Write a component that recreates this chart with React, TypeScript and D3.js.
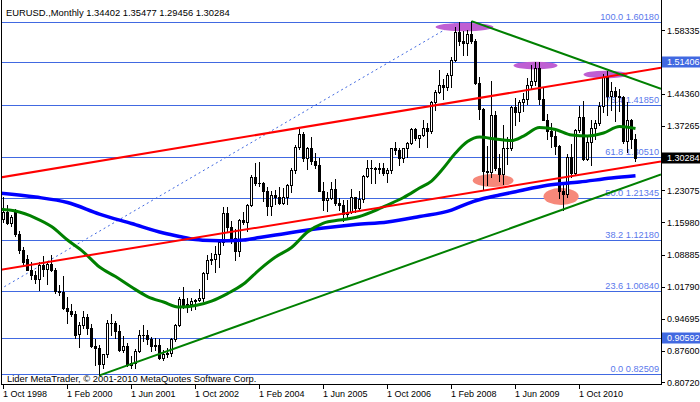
import React from "react";
import * as d3 from "d3";

// ---------- data ----------
const title = "EURUSD.,Monthly";
const firstBarYear = 1998;
const firstBarMonth = 10; // Oct 1998 = bar 0

// monthly candles [open, high, low, close]
const candles: [number, number, number, number][] = [
  // 1998 Oct-Dec
  [1.168, 1.215, 1.16, 1.183], [1.183, 1.198, 1.156, 1.158], [1.158, 1.176, 1.153, 1.173],
  // 1999
  [1.183, 1.19, 1.13, 1.135], [1.135, 1.142, 1.092, 1.1], [1.1, 1.105, 1.068, 1.073],
  [1.08, 1.088, 1.054, 1.056], [1.056, 1.072, 1.035, 1.043], [1.043, 1.053, 1.026, 1.035],
  [1.035, 1.073, 1.011, 1.066], [1.066, 1.087, 1.041, 1.058], [1.058, 1.074, 1.025, 1.068],
  [1.068, 1.088, 1.053, 1.056], [1.056, 1.06, 1.004, 1.009], [1.009, 1.022, 1.0, 1.007],
  // 2000
  [1.007, 1.041, 0.97, 0.971], [0.971, 0.995, 0.939, 0.965], [0.965, 0.98, 0.954, 0.957],
  [0.957, 0.964, 0.904, 0.912], [0.914, 0.94, 0.886, 0.933], [0.933, 0.964, 0.927, 0.952],
  [0.952, 0.958, 0.914, 0.927], [0.927, 0.935, 0.885, 0.888], [0.888, 0.903, 0.845, 0.883],
  [0.883, 0.89, 0.8228, 0.848], [0.848, 0.87, 0.84, 0.87], [0.87, 0.944, 0.864, 0.939],
  // 2001
  [0.939, 0.959, 0.912, 0.938], [0.938, 0.942, 0.906, 0.921], [0.921, 0.933, 0.876, 0.878],
  [0.878, 0.91, 0.875, 0.887], [0.887, 0.894, 0.844, 0.846], [0.846, 0.866, 0.838, 0.849],
  [0.849, 0.88, 0.839, 0.877], [0.877, 0.923, 0.875, 0.912], [0.912, 0.933, 0.899, 0.911],
  [0.911, 0.922, 0.892, 0.903], [0.903, 0.907, 0.877, 0.888], [0.888, 0.905, 0.879, 0.89],
  // 2002
  [0.89, 0.903, 0.858, 0.861], [0.861, 0.878, 0.856, 0.869], [0.869, 0.883, 0.864, 0.872],
  [0.872, 0.904, 0.865, 0.902], [0.902, 0.937, 0.898, 0.933], [0.933, 0.995, 0.932, 0.992],
  [0.992, 1.018, 0.971, 0.978], [0.978, 0.993, 0.963, 0.981], [0.981, 0.994, 0.966, 0.986],
  [0.986, 0.99, 0.969, 0.988], [0.988, 1.014, 0.987, 0.993], [0.993, 1.05, 0.986, 1.049],
  // 2003
  [1.049, 1.089, 1.035, 1.076], [1.076, 1.093, 1.069, 1.079], [1.079, 1.108, 1.05, 1.091],
  [1.091, 1.122, 1.062, 1.116], [1.116, 1.193, 1.11, 1.18], [1.18, 1.193, 1.14, 1.149],
  [1.149, 1.163, 1.115, 1.125], [1.125, 1.146, 1.076, 1.098], [1.098, 1.168, 1.086, 1.165],
  [1.165, 1.183, 1.156, 1.16], [1.16, 1.2, 1.141, 1.199], [1.199, 1.264, 1.196, 1.259],
  // 2004
  [1.259, 1.29, 1.242, 1.247], [1.247, 1.293, 1.24, 1.246], [1.246, 1.249, 1.208, 1.23],
  [1.23, 1.239, 1.176, 1.197], [1.197, 1.229, 1.176, 1.22], [1.22, 1.231, 1.2, 1.217],
  [1.217, 1.239, 1.2, 1.202], [1.202, 1.235, 1.2, 1.217], [1.217, 1.244, 1.2, 1.242],
  [1.242, 1.28, 1.227, 1.276], [1.276, 1.33, 1.27, 1.326], [1.326, 1.367, 1.322, 1.356],
  // 2005
  [1.356, 1.359, 1.295, 1.303], [1.303, 1.327, 1.277, 1.325], [1.325, 1.348, 1.288, 1.296],
  [1.296, 1.312, 1.279, 1.287], [1.287, 1.302, 1.229, 1.23], [1.23, 1.249, 1.187, 1.209],
  [1.209, 1.226, 1.186, 1.213], [1.213, 1.248, 1.211, 1.233], [1.233, 1.256, 1.199, 1.203],
  [1.203, 1.214, 1.187, 1.198], [1.198, 1.21, 1.164, 1.179], [1.179, 1.209, 1.171, 1.184],
  // 2006
  [1.184, 1.233, 1.18, 1.215], [1.215, 1.217, 1.183, 1.192], [1.192, 1.23, 1.187, 1.212],
  [1.212, 1.265, 1.206, 1.262], [1.262, 1.298, 1.26, 1.281], [1.281, 1.298, 1.246, 1.279],
  [1.279, 1.283, 1.246, 1.277], [1.277, 1.292, 1.27, 1.281], [1.281, 1.29, 1.264, 1.268],
  [1.268, 1.281, 1.248, 1.276], [1.276, 1.325, 1.27, 1.324], [1.324, 1.337, 1.311, 1.32],
  // 2007
  [1.32, 1.325, 1.286, 1.302], [1.302, 1.325, 1.293, 1.323], [1.323, 1.338, 1.304, 1.336],
  [1.336, 1.368, 1.332, 1.365], [1.365, 1.368, 1.341, 1.345], [1.345, 1.353, 1.326, 1.353],
  [1.353, 1.385, 1.35, 1.369], [1.369, 1.379, 1.326, 1.362], [1.362, 1.428, 1.358, 1.426],
  [1.426, 1.453, 1.408, 1.448], [1.448, 1.497, 1.446, 1.463], [1.463, 1.476, 1.433, 1.459],
  // 2008
  [1.459, 1.49, 1.452, 1.486], [1.486, 1.524, 1.458, 1.518], [1.518, 1.591, 1.516, 1.579],
  [1.579, 1.6018, 1.551, 1.56], [1.56, 1.582, 1.53, 1.555], [1.555, 1.584, 1.529, 1.575],
  [1.575, 1.6038, 1.556, 1.56], [1.56, 1.565, 1.466, 1.468], [1.468, 1.48, 1.388, 1.41],
  [1.41, 1.412, 1.233, 1.273], [1.273, 1.329, 1.242, 1.271], [1.271, 1.472, 1.26, 1.397],
  // 2009
  [1.397, 1.405, 1.275, 1.28], [1.28, 1.311, 1.252, 1.267], [1.267, 1.374, 1.2456, 1.325],
  [1.325, 1.348, 1.289, 1.324], [1.324, 1.417, 1.319, 1.415], [1.415, 1.434, 1.374, 1.403],
  [1.403, 1.43, 1.383, 1.425], [1.425, 1.445, 1.405, 1.433], [1.433, 1.478, 1.421, 1.464],
  [1.464, 1.506, 1.455, 1.472], [1.472, 1.5144, 1.464, 1.5], [1.5, 1.514, 1.422, 1.432],
  // 2010
  [1.432, 1.458, 1.385, 1.386], [1.386, 1.398, 1.343, 1.362], [1.362, 1.38, 1.327, 1.351],
  [1.351, 1.369, 1.311, 1.329], [1.329, 1.331, 1.214, 1.229], [1.229, 1.244, 1.1876, 1.223],
  [1.223, 1.311, 1.215, 1.305], [1.305, 1.333, 1.259, 1.269], [1.269, 1.366, 1.264, 1.363],
  [1.363, 1.416, 1.36, 1.393], [1.393, 1.428, 1.297, 1.3], [1.3, 1.35, 1.297, 1.338],
  // 2011
  [1.338, 1.386, 1.287, 1.369], [1.369, 1.386, 1.343, 1.38], [1.38, 1.425, 1.375, 1.416],
  [1.416, 1.488, 1.404, 1.481], [1.481, 1.494, 1.397, 1.439], [1.439, 1.47, 1.408, 1.45],
  [1.45, 1.458, 1.384, 1.439], [1.439, 1.455, 1.405, 1.437], [1.437, 1.439, 1.335, 1.339],
  [1.339, 1.425, 1.315, 1.386], [1.386, 1.387, 1.325, 1.344], [1.34402, 1.35477, 1.29456, 1.30284],
];

const xTickLabels = [
  "1 Oct 1998", "1 Feb 2000", "1 Jun 2001", "1 Oct 2002", "1 Feb 2004",
  "1 Jun 2005", "1 Oct 2006", "1 Feb 2008", "1 Jun 2009", "1 Oct 2010",
];
const yTickValues = [1.58335, 1.4436, 1.37265, 1.23075, 1.1598, 1.08885, 1.0179, 0.94695, 0.876, 0.8072];
const markedLevels = [1.51406, 0.90592];
const currentPrice = 1.30284;
const fibLevels: [string, number][] = [
  ["100.0", 1.6018], ["76.4", 1.4185], ["61.8", 1.3051], ["50.0", 1.21345],
  ["38.2", 1.1218], ["23.6", 1.0084], ["0.0", 0.82509],
];
const fibAnchors: [number, number][] = [[-37.3, 0.82509], [113.6, 1.6018]];

// moving averages sampled [bar, price]
const slowMA: [number, number][] = [
  [-1, 1.2247], [8, 1.2159], [16, 1.2038], [24, 1.1784], [32, 1.1575], [40, 1.1365],
  [44, 1.1288], [48, 1.1222], [52, 1.12], [56, 1.1196], [60, 1.1211], [64, 1.1266],
  [68, 1.1321], [72, 1.1376], [80, 1.1476], [88, 1.1553], [96, 1.1608], [104, 1.1729],
  [112, 1.1872], [116, 1.2016], [120, 1.2126], [124, 1.2203], [128, 1.2276], [136, 1.2419],
  [144, 1.249], [152, 1.2578], [158, 1.2629],
];
const fastMA: [number, number][] = [
  [-1, 1.1894], [3, 1.185], [8, 1.1696], [12, 1.1509], [16, 1.1211], [20, 1.0946],
  [24, 1.0616], [28, 1.0406], [32, 1.0175], [36, 0.9965], [40, 0.9844], [44, 0.9733],
  [48, 0.9767], [52, 0.9866], [56, 1.0031], [60, 1.0241], [64, 1.056], [68, 1.0836],
  [72, 1.1046], [76, 1.1387], [80, 1.1586], [84, 1.1652], [88, 1.1707], [92, 1.1828],
  [96, 1.1983], [100, 1.2148], [104, 1.2358], [107, 1.2512], [110, 1.2799], [113, 1.3129],
  [116, 1.3383], [119, 1.3482], [123, 1.3438], [127, 1.3405], [130, 1.3504], [134, 1.3692],
  [138, 1.3648], [142, 1.3526], [146, 1.3504], [150, 1.357], [154, 1.3714], [158, 1.367],
];

// trend lines by two anchors [bar, price]
const redChannelUpper: [number, number][] = [[0, 1.2602], [158, 1.4915]];
const redChannelLower: [number, number][] = [[0, 1.0567], [158, 1.2852]];
const greenSupport: [number, number][] = [[24, 0.8228], [158, 1.2457]];
const greenResistance: [number, number][] = [[117, 1.6038], [158, 1.4746]];

// ellipses [bar, price, radius in bars, radius in price]
const topEllipses: [number, number, number, number][] = [
  [115.25, 1.5908, 7.25, 0.0092], [133, 1.5059, 5.5, 0.0085], [150.5, 1.486, 5.5, 0.0085],
];
const bottomEllipses: [number, number, number, number][] = [
  [122.4, 1.2523, 5.1, 0.0143], [139.4, 1.217, 4.4, 0.0187],
];
const copyright = "Lider MetaTrader, \u00a9 2001-2010 MetaQuotes Software Corp.";

// ---------- layout ----------
const W = 700;
const H = 402;
const PR = 661; // plot right
const PB = 384; // plot bottom
const FONT = "'Liberation Sans', Arial, sans-serif";
const MONTHS: Record<string, number> = {
  Jan: 1, Feb: 2, Mar: 3, Apr: 4, May: 5, Jun: 6, Jul: 7, Aug: 8, Sep: 9, Oct: 10, Nov: 11, Dec: 12,
};

export default function App() {
  const n = candles.length;
  const x = d3.scaleLinear().domain([0, n - 1]).range([3.5, 3.5 + 4 * (n - 1)]);
  const y = d3.scaleLinear().domain([0.8072, 1.58335]).range([382.4, 30.4]);
  const snap = (v: number) => Math.round(y(v)) + 0.5;

  const barOf = (label: string) => {
    const [, m, yr] = label.split(" ");
    return (+yr - firstBarYear) * 12 + MONTHS[m] - firstBarMonth;
  };

  const seg = (a: [number, number], b: [number, number], xs: number | null, xe: number | null) => {
    const x1 = x(a[0]), y1 = y(a[1]), x2 = x(b[0]), y2 = y(b[1]);
    const k = (y2 - y1) / (x2 - x1);
    const sx = xs === null ? x1 : xs;
    const ex = xe === null ? x2 : xe;
    return { x1: sx, y1: y1 + k * (sx - x1), x2: ex, y2: y1 + k * (ex - x1) };
  };

  const maLine = d3
    .line<[number, number]>()
    .x((d) => x(d[0]))
    .y((d) => y(d[1]))
    .curve(d3.curveMonotoneX);

  const last = candles[n - 1];
  const header = `${title}  ${last.map((v) => v.toFixed(5)).join(" ")}`;

  const red1 = seg(redChannelUpper[0], redChannelUpper[1], 0, PR);
  const red2 = seg(redChannelLower[0], redChannelLower[1], 0, PR);
  const g1 = seg(greenSupport[0], greenSupport[1], null, PR);
  const g2 = seg(greenResistance[0], greenResistance[1], null, PR);
  const fibT = seg(fibAnchors[0], fibAnchors[1], 0, null);

  return (
    <svg
      width={W}
      height={H}
      style={{ position: "absolute", left: 0, top: 0, background: "#fff" }}
      fontFamily={FONT}
    >
      <defs>
        <clipPath id="plot">
          <rect x={1} y={0} width={PR - 1} height={PB} />
        </clipPath>
      </defs>
      <rect x={0} y={0} width={W} height={H} fill="#fff" />

      <g clipPath="url(#plot)">
        {/* fibonacci levels */}
        {fibLevels.map(([p, v]) => (
          <g key={p}>
            <line x1={0} x2={PR} y1={snap(v)} y2={snap(v)} stroke="#4169e1" strokeWidth={1} />
            <text x={659} y={snap(v) - 3} textAnchor="end" fontSize={9.2} fill="#5a78ec">
              {`${p} ${v.toFixed(5)}`}
            </text>
          </g>
        ))}
        {markedLevels.map((v) => (
          <line key={v} x1={0} x2={PR} y1={snap(v)} y2={snap(v)} stroke="#4169e1" strokeWidth={1} />
        ))}
        <line {...fibT} stroke="#4169e1" strokeWidth={1} strokeDasharray="2,3" />

        {/* ellipses */}
        {topEllipses.map(([b, v, rb, rv], i) => (
          <ellipse key={"t" + i} cx={x(b)} cy={y(v)} rx={rb * 4} ry={Math.abs(y(v + rv) - y(v))} fill="#bf5fd3" />
        ))}
        {bottomEllipses.map(([b, v, rb, rv], i) => (
          <ellipse key={"b" + i} cx={x(b)} cy={y(v)} rx={rb * 4} ry={Math.abs(y(v + rv) - y(v))} fill="#f6887a" />
        ))}

        {/* candles */}
        {candles.map(([o, h, l, c], i) => {
          const cx = x(i);
          const yt = Math.round(y(Math.max(o, c)));
          const yb = Math.round(y(Math.min(o, c)));
          const bull = c >= o;
          return (
            <g key={i}>
              <line x1={cx} x2={cx} y1={Math.round(y(h))} y2={Math.round(y(l)) + 1} stroke="#000" strokeWidth={1} />
              {yb - yt >= 1 ? (
                <rect x={cx - 1} y={yt + 0.5} width={2} height={yb - yt} fill={bull ? "#fff" : "#000"} stroke="#000" strokeWidth={1} />
              ) : (
                <line x1={cx - 1.5} x2={cx + 1.5} y1={yt + 0.5} y2={yt + 0.5} stroke="#000" strokeWidth={1} />
              )}
            </g>
          );
        })}

        {/* moving averages */}
        <path d={maLine(slowMA) || ""} fill="none" stroke="#0000ff" strokeWidth={3.5} />
        <path d={maLine(fastMA) || ""} fill="none" stroke="#008000" strokeWidth={3} />

        {/* trend lines */}
        <line {...red1} stroke="#ff0000" strokeWidth={2} />
        <line {...red2} stroke="#ff0000" strokeWidth={2} />
        <line {...g1} stroke="#008000" strokeWidth={2} />
        <line {...g2} stroke="#008000" strokeWidth={2} />
      </g>

      {/* header */}
      <text x={6} y={15.5} fontSize={9.4} fill="#000">{header}</text>
      <text x={7} y={382} fontSize={9.4} fill="#000">{copyright}</text>

      {/* frame */}
      <line x1={1.5} x2={1.5} y1={0} y2={PB + 0.5} stroke="#000" />
      <line x1={1} x2={PR + 1} y1={PB + 0.5} y2={PB + 0.5} stroke="#000" />
      <line x1={PR + 0.5} x2={PR + 0.5} y1={0} y2={PB + 1} stroke="#000" />

      {/* price axis */}
      {yTickValues.map((v) => (
        <g key={v}>
          <line x1={PR} x2={PR + 4} y1={snap(v)} y2={snap(v)} stroke="#000" />
          <text x={667} y={y(v) + 3.3} fontSize={9} fill="#000">{v.toFixed(5)}</text>
        </g>
      ))}
      {markedLevels.map((v) => (
        <g key={"m" + v}>
          <rect x={662} y={Math.round(y(v)) - 5.5} width={38} height={11} fill="#4169e1" />
          <text x={667} y={y(v) + 3.3} fontSize={9} fill="#fff">{v.toFixed(5)}</text>
        </g>
      ))}
      <rect x={662} y={Math.round(y(currentPrice)) - 5.5} width={38} height={11} fill="#000" />
      <text x={667} y={y(currentPrice) + 3.3} fontSize={9} fill="#fff">{currentPrice.toFixed(5)}</text>

      {/* time axis */}
      {xTickLabels.map((lab) => {
        const tx = x(barOf(lab));
        return (
          <g key={lab}>
            <line x1={tx} x2={tx} y1={PB} y2={PB + 5} stroke="#000" />
            <text x={tx - 0.5} y={397} fontSize={9} fill="#000">{lab}</text>
          </g>
        );
      })}
    </svg>
  );
}
